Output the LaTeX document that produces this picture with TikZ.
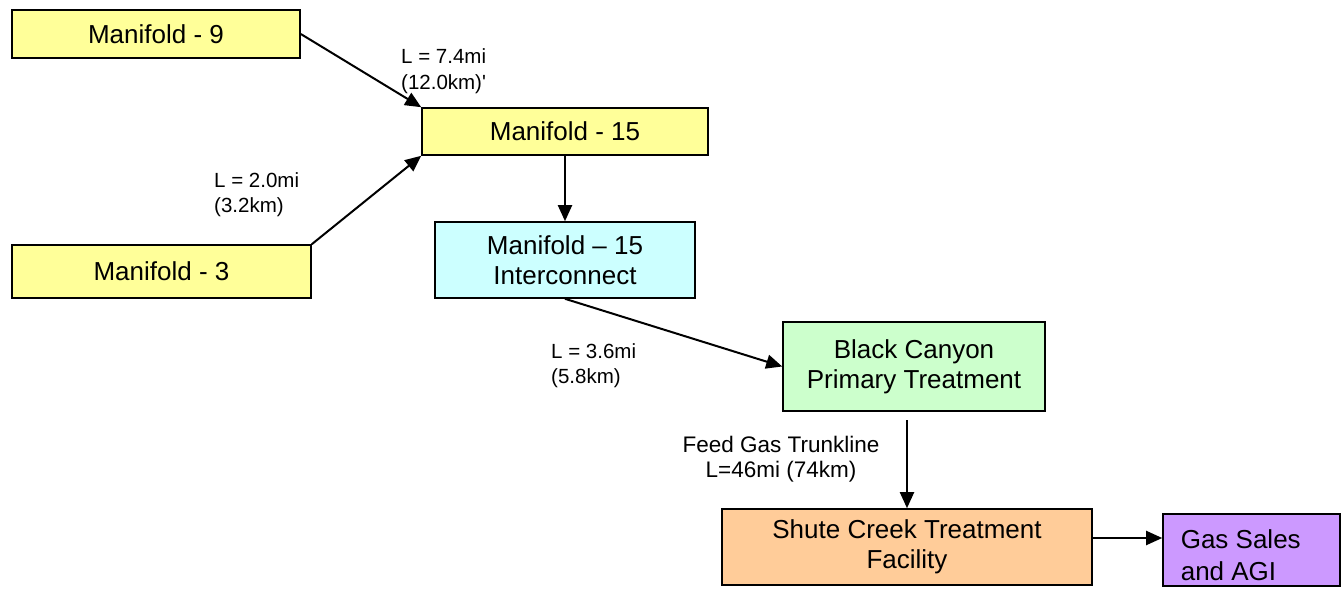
\documentclass[tikz,border=0pt]{standalone}
\usepackage{fontspec}
\setmainfont{Liberation Sans}
\usetikzlibrary{arrows.meta}
\definecolor{boxyellow}{HTML}{FFFF99}
\definecolor{boxcyan}{HTML}{CCFFFF}
\definecolor{boxgreen}{HTML}{CCFFCC}
\definecolor{boxorange}{HTML}{FFCC99}
\definecolor{boxpurple}{HTML}{CC99FF}
\begin{document}
\begin{tikzpicture}[x=1pt,y=-1pt,
  unit/.style={draw=black, line width=1.6pt, inner sep=0pt, align=center,
    font=\fontsize{26}{30}\selectfont},
  pipe/.style={line width=2pt, -{Triangle[length=16pt,width=14pt]}},
  lbl/.style={font=\fontsize{20.5}{25}\selectfont, align=left, inner sep=0pt}]
\useasboundingbox (0,0) rectangle (1342,589);

% process units (positions in pixels of the flow sheet)
\node[unit, fill=boxyellow, minimum width=288pt, minimum height=48pt] (m9) at (156,34) {Manifold - 9};
\node[unit, fill=boxyellow, minimum width=299pt, minimum height=53pt] (m3) at (161.5,271.5) {Manifold - 3};
\node[unit, fill=boxyellow, minimum width=286pt, minimum height=47pt] (m15) at (565,131.5) {Manifold - 15};
\node[unit, fill=boxcyan, minimum width=260pt, minimum height=76pt] (ic) at (565,260) {Manifold -- 15\\Interconnect};
\node[unit, fill=boxgreen, minimum width=262pt, minimum height=89pt] (bc) at (914,366.5) {Black Canyon\\Primary Treatment};
\node[unit, fill=boxorange, minimum width=370pt, minimum height=76pt] (sc) at (907,547) {Shute Creek Treatment\\Facility};
\node[unit, fill=boxpurple, minimum width=177pt, minimum height=72pt] (gs) at (1251.5,550) {};
\node[unit, draw=none, fill=none, align=left, anchor=base west] (gstext) at (1180,580) {Gas Sales\\[2pt]and AGI};

% free end of the trunkline below the primary treatment
\coordinate (bcout) at (907,420);

% pipelines
\draw[pipe] (m9.east) -- (m15.north west);
\draw[pipe] (m3.north east) -- (m15.south west);
\draw[pipe] (m15.south) -- (ic.north);
\draw[pipe] (ic.south) -- (bc.west);
\draw[pipe] (bcout) -- (bcout |- sc.north);
\draw[pipe] (sc.east |- 0,538) -- (gs.west |- 0,538);

% pipeline lengths
\node[lbl, anchor=north west] (l74) at (401,48) {L = 7.4mi\\[1pt](12.0km)\textquotesingle};
\node[lbl, anchor=north west] (l20) at (214,172) {L = 2.0mi\\(3.2km)};
\node[lbl, anchor=north west] (l36) at (551,343) {L = 3.6mi\\(5.8km)};
\node[lbl, anchor=north, align=center, font=\fontsize{22.5}{25}\selectfont] (lfg) at (781,436) {Feed Gas Trunkline\\L=46mi (74km)};
\end{tikzpicture}
\end{document}
